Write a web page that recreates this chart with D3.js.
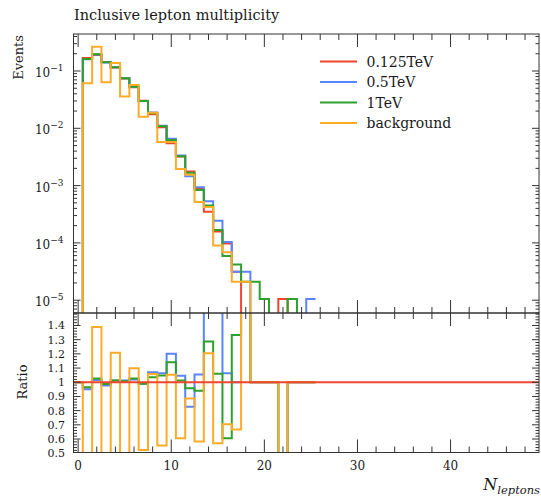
<!DOCTYPE html>
<html>
<head>
<meta charset="utf-8">
<script src="https://cdn.jsdelivr.net/npm/d3@7/dist/d3.min.js"></script>
<style>
  body { margin: 0; background: #fff; }
  svg { display: block; }
  text { font-family: "DejaVu Serif", "Liberation Serif", serif; fill: #1a1a1a; }
</style>
</head>
<body>
<svg id="chart" width="541" height="499"></svg>
<script>
// Bin centres: integer lepton multiplicities 0..25 (bins are 1 wide)
const bins = d3.range(0, 26);

// Normalised event fractions per bin
const events0125TeV = [0, 0.1679, 0.191, 0.1436, 0.1147, 0.0740, 0.0519, 0.03026, 0.01762, 0.01041,
  0.005474, 0.003207, 0.001755, 0.000890, 0.0003503, 0.0001584, 9.76e-5, 3.15e-5, 0, 0,
  0, 0, 1.05e-5, 0, 0, 0];
const events05TeV = [0, 0.1597, 0.1941, 0.1404, 0.1161, 0.0749, 0.0529, 0.02996, 0.01885, 0.01108,
  0.006569, 0.003351, 0.001453, 0.000938, 0.000532, 0.000244, 0.0001037, 3.15e-5, 3.15e-5, 0,
  0, 0, 0, 0, 0, 1.05e-5];
const events1TeV = [0, 0.1620, 0.1960, 0.1419, 0.1161, 0.0745, 0.0532, 0.02996, 0.01824, 0.01090,
  0.006246, 0.003245, 0.001680, 0.000837, 0.000451, 0.0001679, 5.91e-5, 4.2e-5, 2.1e-5, 2.1e-5,
  1.05e-5, 0, 0, 1.05e-5, 0, 0];
const eventsBackground = [0, 0.0610, 0.2655, 0.0635, 0.1386, 0.0359, 0.0570, 0.01583, 0.01866, 0.005767,
  0.005759, 0.001943, 0.001553, 0.000518, 0.000422, 9.03e-5, 6.87e-5, 2.1e-5, 2.1e-5, 0,
  0, 0, 0, 0, 0, 0];

// Ratio to the 0.125TeV reference, per bin
const ratio05TeV = [1, 0.951, 1.016, 0.978, 1.012, 1.012, 1.02, 0.99, 1.07, 1.064,
  1.2, 1.045, 0.828, 1.054, 1.52, 1.54, 1.063, 1.0, 2.0, 1,
  1, 1, 0, 1, 1, 1];
const ratio1TeV = [1, 0.965, 1.026, 0.988, 1.012, 1.007, 1.026, 0.99, 1.035, 1.047,
  1.141, 1.012, 0.957, 0.94, 1.288, 1.06, 0.606, 1.333, 2.0, 1,
  1, 1, 0, 1, 1, 1];
const ratioBackground = [1, 0.363, 1.39, 0.442, 1.208, 0.485, 1.099, 0.523, 1.059, 0.554,
  1.052, 0.606, 0.885, 0.582, 1.204, 0.57, 0.704, 0.667, 2.0, 1,
  1, 1, 0, 1, 1, 1];

const seriesNames = ["0.125TeV", "0.5TeV", "1TeV", "background"];
const seriesColors = ["#f0452f", "#5b84ff", "#2da02d", "#ffab2a"];

const xTickValues = [0, 10, 20, 30, 40];
const yDecades = [-5, -4, -3, -2, -1];
const ratioTickLabels = ["0.5", "0.6", "0.7", "0.8", "0.9", "1", "1.1", "1.2", "1.3", "1.4"];

// ---- layout ----
const frameL = 73.5, frameR = 539, frameT = 34, frameM = 313, frameB = 452.5;

const svg = d3.select("#chart");

const x = d3.scaleLinear().domain([-0.5, 49.5]).range([frameL, frameR]);
const yMain = d3.scaleLog().domain([Math.pow(10, -5.2234), Math.pow(10, -0.3543)]).range([frameM, frameT]);
const yRatio = d3.scaleLinear().domain([0.505, 1.488]).range([frameB, frameM]);

const defs = svg.append("defs");
defs.append("clipPath").attr("id", "clipMain")
  .append("rect").attr("x", frameL).attr("y", frameT).attr("width", frameR - frameL).attr("height", frameM - frameT);
defs.append("clipPath").attr("id", "clipRatio")
  .append("rect").attr("x", frameL).attr("y", frameM).attr("width", frameR - frameL).attr("height", frameB - frameM);

// Step outline of a histogram; yFn maps a bin value to a pixel row
function stepPath(values, yFn) {
  const pts = [];
  values.forEach((v, i) => {
    const b = bins[i];
    pts.push([x(b - 0.5), yFn(v)]);
    pts.push([x(b + 0.5), yFn(v)]);
  });
  return d3.line()(pts);
}
const yMainSafe = v => v > 0 ? yMain(v) : frameM + 30;

// ---- main panel histograms ----
const gMain = svg.append("g").attr("clip-path", "url(#clipMain)");
[events0125TeV, events05TeV, events1TeV, eventsBackground].forEach((vals, k) => {
  gMain.append("path")
    .attr("d", stepPath(vals, yMainSafe))
    .attr("fill", "none")
    .attr("stroke", seriesColors[k])
    .attr("stroke-width", 2)
    .attr("stroke-linejoin", "miter");
});

// ---- ratio panel ----
const gRatio = svg.append("g").attr("clip-path", "url(#clipRatio)");
[ratio05TeV, ratio1TeV, ratioBackground].forEach((vals, k) => {
  gRatio.append("path")
    .attr("d", stepPath(vals, v => yRatio(v)))
    .attr("fill", "none")
    .attr("stroke", seriesColors[k + 1])
    .attr("stroke-width", 2);
});
// reference line at unity
gRatio.append("line")
  .attr("x1", frameL).attr("x2", frameR)
  .attr("y1", yRatio(1)).attr("y2", yRatio(1))
  .attr("stroke", seriesColors[0]).attr("stroke-width", 2);

// ---- frames ----
const axisColor = "#333";
[[frameT, frameM], [frameM, frameB]].forEach(([y0, y1]) => {
  svg.append("rect").attr("x", frameL).attr("y", y0).attr("width", frameR - frameL).attr("height", y1 - y0)
    .attr("fill", "none").attr("stroke", axisColor).attr("stroke-width", 1);
});

const ticks = svg.append("g").attr("stroke", axisColor).attr("stroke-width", 1);
function tick(x1, y1, x2, y2) {
  ticks.append("line").attr("x1", x1).attr("y1", y1).attr("x2", x2).attr("y2", y2);
}

// x ticks on all horizontal edges, pointing inwards
const xMinor = d3.range(0, 50, 2).filter(v => v % 10 !== 0);
[[frameT, 1], [frameM, -1], [frameM, 1], [frameB, -1]].forEach(([yy, dir]) => {
  xTickValues.forEach(v => tick(x(v), yy, x(v), yy + dir * 13));
  xMinor.forEach(v => tick(x(v), yy, x(v), yy + dir * 6));
});

// log ticks of the main panel on both sides
for (let d = -6; d <= 0; d++) {
  for (let m = 1; m <= 9; m++) {
    const v = m * Math.pow(10, d);
    const yy = yMain(v);
    if (yy < frameT - 0.5 || yy > frameM + 0.5) continue;
    const len = m === 1 ? 7 : 3.5;
    tick(frameL, yy, frameL + len, yy);
    tick(frameR, yy, frameR - len, yy);
  }
}

// linear ticks of the ratio panel on both sides
for (let i = 25; i <= 74; i++) {
  const v = i / 50;
  const yy = yRatio(v);
  if (yy < frameM || yy > frameB) continue;
  const len = (i % 5 === 0) ? 7 : 3.5;
  tick(frameL, yy, frameL + len, yy);
  tick(frameR, yy, frameR - len, yy);
}

// ---- tick labels ----
yDecades.forEach(d => {
  const yy = yMain(Math.pow(10, d));
  const t = svg.append("text").attr("x", 63.5).attr("y", yy + 6)
    .attr("text-anchor", "end").attr("font-size", 12);
  t.append("tspan").text("10");
  t.append("tspan").attr("dy", -6).attr("font-size", 9).text("\u2212" + Math.abs(d));
});

ratioTickLabels.forEach(s => {
  svg.append("text").attr("x", 65).attr("y", yRatio(+s) + 4)
    .attr("text-anchor", "end").attr("font-size", 11).text(s);
});

xTickValues.forEach(v => {
  svg.append("text").attr("x", x(v)).attr("y", 469.5)
    .attr("text-anchor", "middle").attr("font-size", 12).text(v);
});

// ---- titles ----
svg.append("text").attr("x", 74).attr("y", 20).attr("font-size", 14.5)
  .text("Inclusive lepton multiplicity");

svg.append("text").attr("transform", "translate(23,35) rotate(-90)")
  .attr("text-anchor", "end").attr("font-size", 13).text("Events");

svg.append("text").attr("transform", "translate(26.5,382) rotate(-90)")
  .attr("text-anchor", "middle").attr("font-size", 13).text("Ratio");

const xl = svg.append("text").attr("x", 540).attr("y", 490).attr("text-anchor", "end");
xl.append("tspan").attr("font-style", "italic").attr("font-size", 16).text("N");
xl.append("tspan").attr("font-style", "italic").attr("font-size", 11.5).attr("dy", 4).text("leptons");

// ---- legend ----
const legendRows = [61.5, 82, 102.5, 123];
seriesNames.forEach((name, k) => {
  svg.append("line").attr("x1", 320).attr("x2", 357)
    .attr("y1", legendRows[k]).attr("y2", legendRows[k])
    .attr("stroke", seriesColors[k]).attr("stroke-width", 2);
  svg.append("text").attr("x", 366.5).attr("y", legendRows[k] + 5)
    .attr("font-size", 14).text(name);
});
</script>
</body>
</html>
